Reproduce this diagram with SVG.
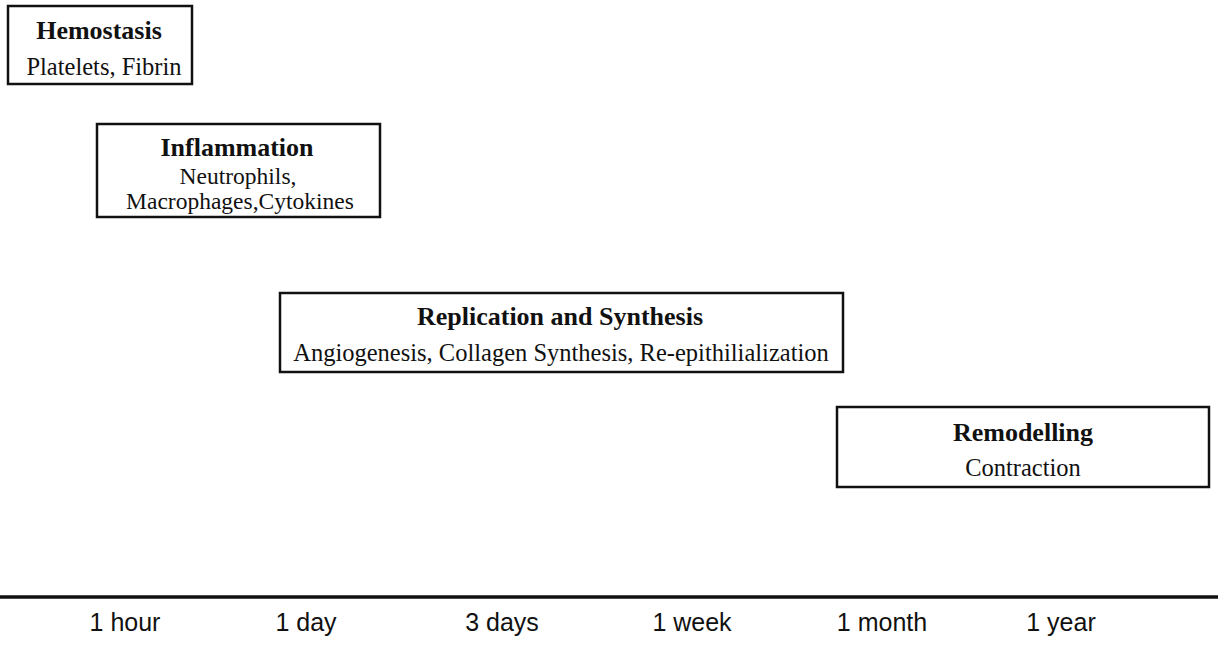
<svg xmlns="http://www.w3.org/2000/svg" width="1218" height="645" viewBox="0 0 1218 645">
<style>
.box{fill:#fff;stroke:#111;stroke-width:2.5}
.t{font-family:"Liberation Serif","Times New Roman",serif;font-weight:bold;font-size:26px;fill:#111;text-anchor:middle}
.s{font-family:"Liberation Serif","Times New Roman",serif;font-size:24.5px;fill:#111;text-anchor:middle}
.ax{font-family:"Liberation Sans",Arial,sans-serif;font-size:25px;fill:#111;text-anchor:middle}
</style>
<rect width="1218" height="645" fill="#fff"/>
<g id="hemostasis">
<rect class="box" x="8" y="6" width="184" height="78"/>
<text class="t" x="99" y="39">Hemostasis</text>
<text class="s" x="104" y="75">Platelets, Fibrin</text>
</g>
<g id="inflammation">
<rect class="box" x="97" y="124" width="283" height="93"/>
<text class="t" x="237" y="156">Inflammation</text>
<text class="s" x="238" y="184" style="font-size:23.5px">Neutrophils,</text>
<text class="s" x="240" y="209" style="font-size:23.5px">Macrophages,Cytokines</text>
</g>
<g id="replication">
<rect class="box" x="280" y="293" width="563" height="79"/>
<text class="t" x="560" y="325">Replication and Synthesis</text>
<text class="s" x="561" y="361">Angiogenesis, Collagen Synthesis, Re-epithilialization</text>
</g>
<g id="remodelling">
<rect class="box" x="837" y="407" width="372" height="80"/>
<text class="t" x="1023" y="441">Remodelling</text>
<text class="s" x="1023" y="476">Contraction</text>
</g>
<g id="axis">
<line x1="0" y1="597" x2="1218" y2="597" stroke="#111" stroke-width="3.5"/>
<text class="ax" x="125" y="631">1 hour</text>
<text class="ax" x="306" y="631">1 day</text>
<text class="ax" x="502" y="631">3 days</text>
<text class="ax" x="692" y="631">1 week</text>
<text class="ax" x="882" y="631">1 month</text>
<text class="ax" x="1061" y="631">1 year</text>
</g>
</svg>
